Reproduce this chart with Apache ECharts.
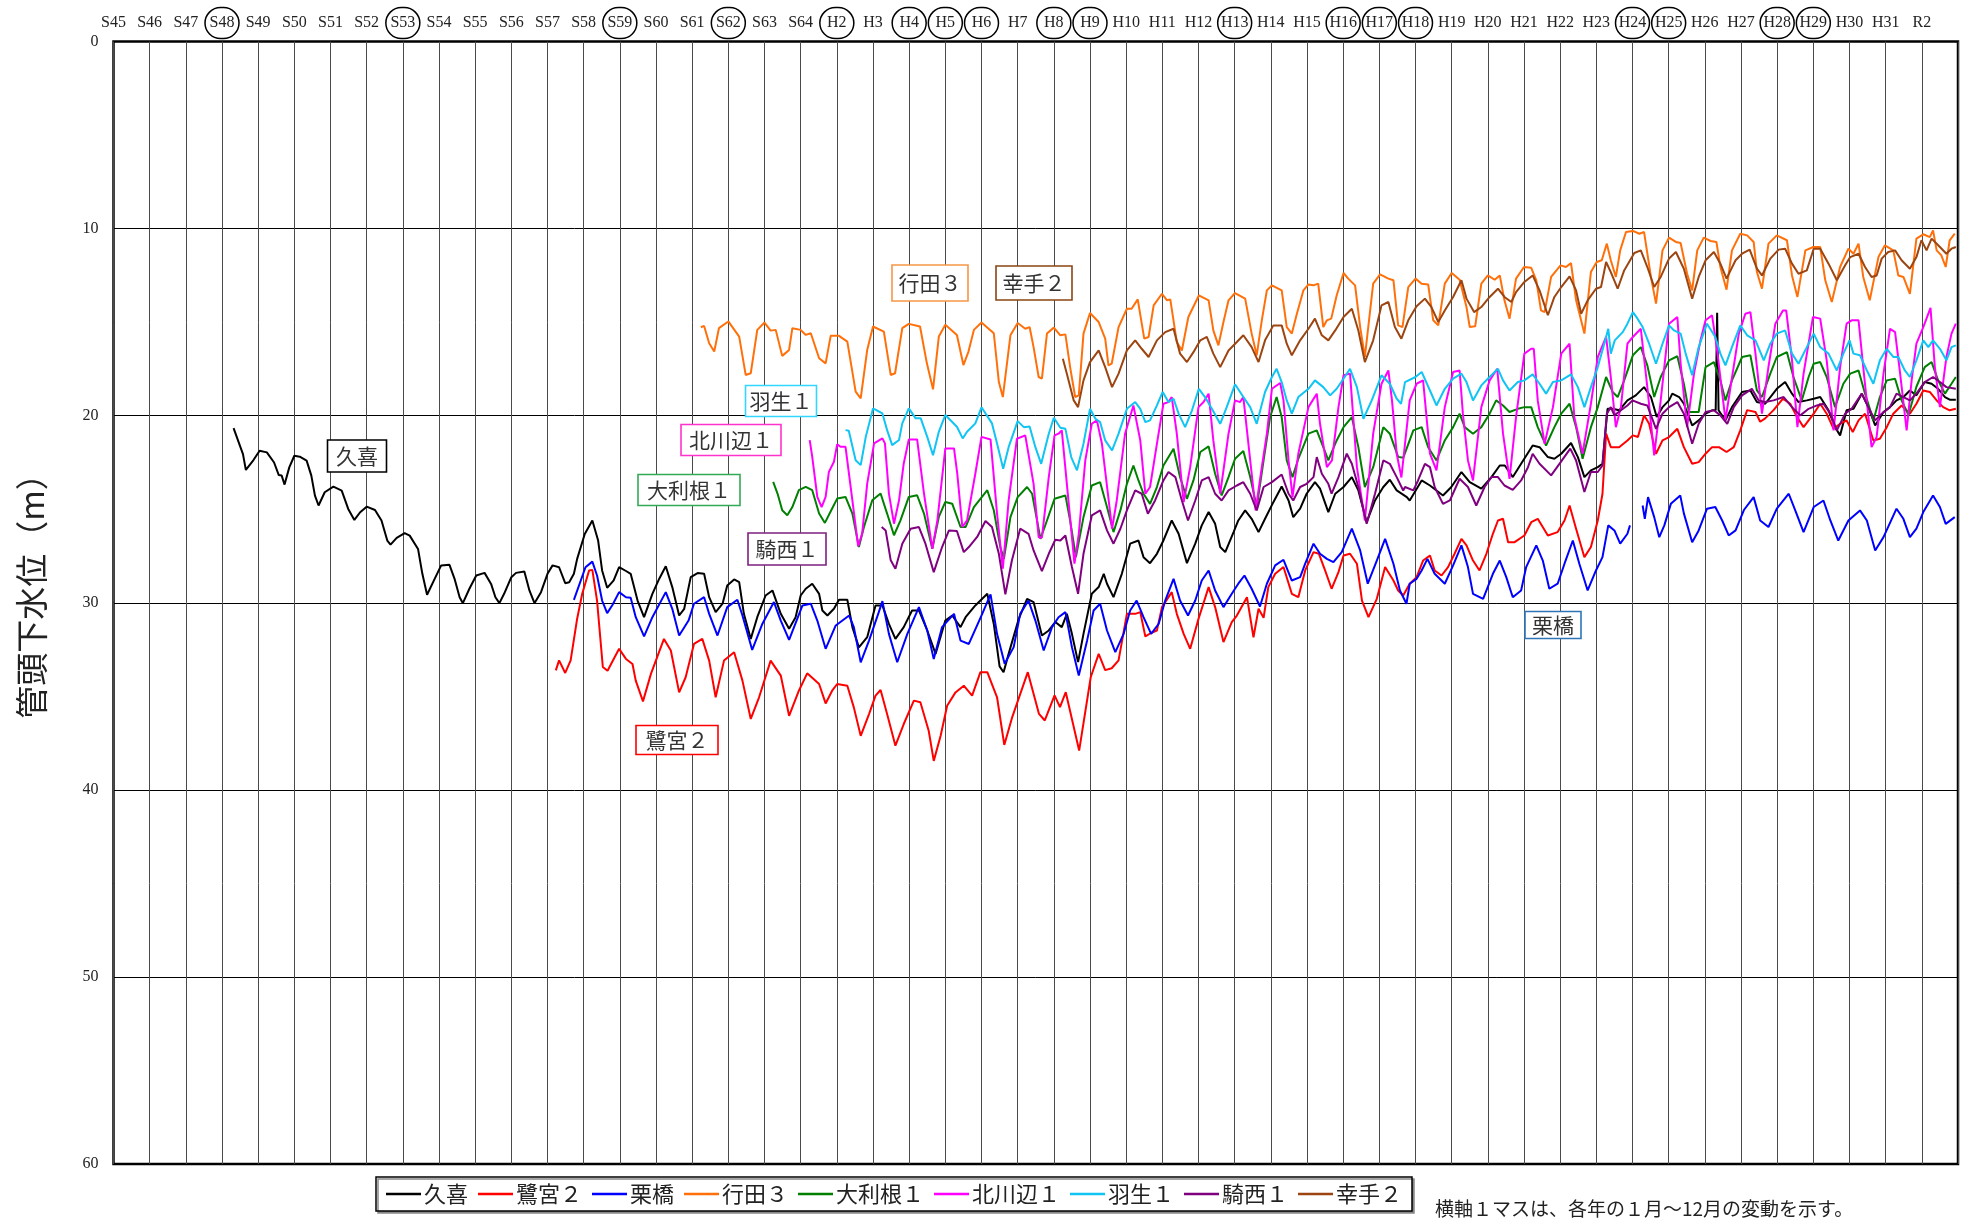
<!DOCTYPE html>
<html><head><meta charset="utf-8">
<script src="https://cdn.jsdelivr.net/npm/echarts@6/dist/echarts.min.js"></script>
<style>html,body{margin:0;padding:0;background:#fff}#c{width:1977px;height:1219px}</style>
</head><body><div id="c"></div>
<script>
// ---- tick labels ----
const yearLabels = ['S45','S46','S47','S48','S49','S50','S51','S52','S53','S54','S55','S56','S57','S58','S59','S60','S61','S62','S63','S64',
 'H2','H3','H4','H5','H6','H7','H8','H9','H10','H11','H12','H13','H14','H15','H16','H17','H18','H19','H20','H21','H22','H23','H24','H25','H26','H27','H28','H29','H30','H31','R2'];
const circledYears = ['S48','S53','S59','S62','H2','H4','H5','H6','H8','H9','H13','H16','H17','H18','H24','H25','H28','H29'];
const depthTicks = [0,10,20,30,40,50,60];
const seriesNames = ['久喜','鷺宮２','栗橋','行田３','大利根１','北川辺１','羽生１','騎西１','幸手２'];

// ---- series values: [year (fractional), depth below casing top (m)] ----
const kuki = [[1973.32,20.66],[1973.58,22.05],[1973.66,22.9],[1973.87,22.37],[1974.04,21.87],[1974.24,21.96],[1974.44,22.5],[1974.57,23.17],[1974.65,23.2],[1974.73,23.68],[1974.86,22.76],[1975.0,22.14],[1975.15,22.19],[1975.34,22.4],[1975.47,23.2],[1975.57,24.27],[1975.67,24.8],[1975.84,24.09],[1976.08,23.79],[1976.31,24.0],[1976.49,24.98],[1976.66,25.57],[1976.82,25.16],[1977.0,24.86],[1977.23,25.04],[1977.41,25.6],[1977.57,26.67],[1977.66,26.89],[1977.83,26.53],[1978.05,26.28],[1978.19,26.41],[1978.42,27.12],[1978.54,28.45],[1978.67,29.57],[1978.88,28.72],[1979.06,28.0],[1979.29,27.97],[1979.43,28.72],[1979.57,29.7],[1979.66,30.02],[1979.84,29.25],[1980.03,28.54],[1980.26,28.4],[1980.44,28.99],[1980.56,29.7],[1980.67,30.02],[1980.8,29.52],[1981.0,28.63],[1981.13,28.4],[1981.36,28.33],[1981.5,29.34],[1981.64,30.02],[1981.82,29.43],[1982.0,28.45],[1982.14,28.0],[1982.32,28.1],[1982.49,28.95],[1982.6,28.9],[1982.73,28.45],[1982.82,27.65],[1983.03,26.32],[1983.24,25.6],[1983.4,26.67],[1983.51,28.27],[1983.65,29.2],[1983.83,28.8],[1983.98,28.09],[1984.17,28.3],[1984.3,28.45],[1984.49,29.88],[1984.67,30.77],[1984.9,29.52],[1985.09,28.71],[1985.27,28.05],[1985.45,29.16],[1985.64,30.68],[1985.78,30.32],[1985.96,28.63],[1986.15,28.41],[1986.33,28.45],[1986.47,29.7],[1986.65,30.5],[1986.84,30.05],[1986.97,29.07],[1987.16,28.75],[1987.3,28.89],[1987.43,30.59],[1987.62,31.93],[1987.8,30.77],[1988.03,29.61],[1988.22,29.34],[1988.45,30.59],[1988.68,31.39],[1988.86,30.77],[1989.0,29.61],[1989.14,29.25],[1989.32,28.98],[1989.51,29.52],[1989.6,30.41],[1989.74,30.68],[1989.92,30.32],[1990.06,29.84],[1990.29,29.84],[1990.43,31.3],[1990.61,32.38],[1990.84,31.84],[1991.07,30.14],[1991.26,30.14],[1991.44,31.13],[1991.62,31.93],[1991.85,31.3],[1992.08,30.41],[1992.27,30.41],[1992.5,31.48],[1992.73,32.73],[1993.0,30.95],[1993.19,30.68],[1993.42,31.3],[1993.56,30.77],[1993.83,30.14],[1994.16,29.52],[1994.34,31.13],[1994.5,33.4],[1994.61,33.71],[1994.75,32.73],[1995.03,30.86],[1995.26,29.79],[1995.44,29.96],[1995.67,31.75],[1995.86,31.48],[1996.04,31.03],[1996.22,31.3],[1996.36,30.59],[1996.5,31.66],[1996.67,33.17],[1996.82,31.66],[1997.05,29.52],[1997.24,29.16],[1997.38,28.45],[1997.47,28.98],[1997.65,29.7],[1997.88,28.45],[1998.11,26.84],[1998.34,26.67],[1998.48,27.56],[1998.66,27.88],[1998.85,27.38],[1999.03,26.67],[1999.26,25.6],[1999.45,26.31],[1999.68,27.88],[1999.91,26.84],[2000.09,25.86],[2000.28,25.15],[2000.46,25.78],[2000.6,27.02],[2000.74,27.29],[2000.97,26.22],[2001.1,25.6],[2001.29,25.06],[2001.47,25.51],[2001.66,26.22],[2001.84,25.51],[2002.07,24.62],[2002.3,23.78],[2002.49,24.53],[2002.62,25.42],[2002.81,24.97],[2002.99,24.17],[2003.22,23.55],[2003.36,23.9],[2003.59,25.15],[2003.78,24.17],[2004.01,23.81],[2004.24,23.28],[2004.42,23.99],[2004.65,25.69],[2004.88,24.53],[2005.11,23.81],[2005.29,23.42],[2005.48,23.99],[2005.76,24.35],[2005.84,24.53],[2006.17,23.46],[2006.4,23.73],[2006.76,24.26],[2006.99,23.81],[2007.27,23.01],[2007.5,23.55],[2007.82,23.9],[2008.1,23.28],[2008.33,22.66],[2008.47,22.66],[2008.69,23.28],[2008.92,22.57],[2009.24,21.59],[2009.43,21.68],[2009.66,22.21],[2009.84,22.3],[2010.03,22.03],[2010.3,21.46],[2010.49,22.21],[2010.67,23.28],[2010.85,22.92],[2011.04,22.75],[2011.17,22.57],[2011.31,19.63],[2011.45,19.63],[2011.63,19.71],[2011.86,19.18],[2012.09,18.91],[2012.32,18.47],[2012.51,19.0],[2012.67,20.07],[2012.83,19.54],[2013.01,19.18],[2013.1,18.82],[2013.29,19.0],[2013.42,19.36],[2013.65,20.52],[2013.83,20.25],[2014.02,19.89],[2014.2,19.71],[2014.3,19.7],[2014.34,14.5],[2014.38,19.71],[2014.57,20.25],[2014.75,19.54],[2015.03,18.73],[2015.26,18.65],[2015.44,19.27],[2015.67,19.36],[2015.99,18.56],[2016.22,18.2],[2016.41,18.82],[2016.59,19.27],[2016.82,19.18],[2017.01,19.09],[2017.19,19.0],[2017.42,19.71],[2017.6,20.61],[2017.74,21.05],[2017.92,19.71],[2018.11,19.63],[2018.34,18.82],[2018.52,19.54],[2018.71,20.52],[2018.94,19.8],[2019.12,19.54],[2019.3,19.18],[2019.49,19.0],[2019.67,18.65],[2019.85,18.91],[2020.08,18.2],[2020.27,18.29],[2020.45,18.56],[2020.64,19.0],[2020.77,19.14],[2020.94,19.14]];

const saginomiya2 = [[1982.23,33.61],[1982.32,33.08],[1982.49,33.75],[1982.64,33.08],[1982.82,30.85],[1982.96,29.52],[1983.15,28.27],[1983.24,28.24],[1983.37,29.88],[1983.53,33.43],[1983.66,33.63],[1983.98,32.46],[1984.17,33.0],[1984.35,33.27],[1984.44,34.16],[1984.64,35.27],[1984.86,33.8],[1985.22,31.93],[1985.41,32.55],[1985.64,34.79],[1985.82,33.98],[1986.05,32.2],[1986.28,31.93],[1986.47,33.09],[1986.65,35.05],[1986.88,33.09],[1987.16,32.64],[1987.39,34.16],[1987.62,36.21],[1987.85,35.05],[1988.17,33.09],[1988.45,33.89],[1988.68,36.04],[1988.95,34.7],[1989.18,33.77],[1989.51,34.34],[1989.69,35.38],[1989.87,34.7],[1990.01,34.34],[1990.29,34.43],[1990.47,35.59],[1990.66,37.11],[1990.89,35.95],[1991.07,34.96],[1991.21,34.66],[1991.39,35.95],[1991.62,37.64],[1991.85,36.48],[1992.13,35.23],[1992.31,35.32],[1992.54,36.84],[1992.68,38.45],[1992.87,37.11],[1993.05,35.5],[1993.28,34.79],[1993.51,34.43],[1993.74,34.96],[1993.97,33.71],[1994.16,33.71],[1994.43,35.05],[1994.63,37.6],[1994.85,36.11],[1995.28,33.71],[1995.59,35.94],[1995.75,36.29],[1996.02,34.95],[1996.17,35.58],[1996.33,34.78],[1996.7,37.9],[1997.02,33.98],[1997.24,32.73],[1997.42,33.6],[1997.6,33.5],[1997.79,33.08],[1998.02,30.59],[1998.25,30.59],[1998.39,30.5],[1998.53,31.8],[1998.7,31.6],[1998.85,31.48],[1998.99,30.23],[1999.26,29.43],[1999.4,30.59],[1999.59,31.66],[1999.77,32.46],[2000.0,30.86],[2000.28,29.16],[2000.46,30.23],[2000.69,32.1],[2000.92,31.03],[2001.06,30.68],[2001.34,29.7],[2001.52,31.84],[2001.66,30.32],[2001.8,30.8],[2001.93,29.16],[2002.12,28.45],[2002.35,28.09],[2002.58,29.52],[2002.76,29.7],[2002.95,28.27],[2003.18,27.29],[2003.33,27.38],[2003.5,28.27],[2003.68,29.25],[2003.87,28.36],[2004.01,27.47],[2004.19,27.38],[2004.38,27.91],[2004.52,29.88],[2004.7,30.77],[2004.93,29.79],[2005.16,28.09],[2005.39,28.81],[2005.52,29.34],[2005.66,29.61],[2005.84,28.98],[2006.03,28.63],[2006.21,27.74],[2006.4,27.47],[2006.53,28.27],[2006.72,28.54],[2006.9,28.09],[2007.08,27.38],[2007.27,26.58],[2007.41,26.93],[2007.59,27.74],[2007.77,28.27],[2007.96,27.38],[2008.14,26.31],[2008.28,25.6],[2008.42,25.51],[2008.56,26.76],[2008.74,26.76],[2009.01,26.4],[2009.2,25.69],[2009.38,25.51],[2009.66,26.4],[2009.93,26.22],[2010.12,25.6],[2010.26,24.8],[2010.44,26.04],[2010.67,27.56],[2010.85,27.02],[2011.04,25.6],[2011.17,24.17],[2011.27,20.96],[2011.4,21.68],[2011.63,21.68],[2011.86,21.32],[2012.01,21.05],[2012.15,21.14],[2012.32,19.98],[2012.46,20.43],[2012.65,22.03],[2012.83,21.32],[2013.01,21.14],[2013.24,20.7],[2013.42,21.68],[2013.65,22.57],[2013.83,22.48],[2014.02,22.03],[2014.2,21.68],[2014.39,21.68],[2014.6,21.94],[2014.8,21.68],[2014.98,20.78],[2015.17,19.7],[2015.4,19.8],[2015.53,20.32],[2015.67,20.14],[2015.9,19.7],[2016.16,19.09],[2016.36,19.36],[2016.55,20.07],[2016.73,20.61],[2017.01,19.89],[2017.19,19.36],[2017.37,19.89],[2017.56,20.7],[2017.74,20.43],[2017.92,20.25],[2018.09,20.87],[2018.25,20.25],[2018.43,19.89],[2018.66,21.32],[2018.84,21.23],[2019.03,20.61],[2019.21,19.89],[2019.44,19.45],[2019.67,19.89],[2019.85,19.36],[2020.04,18.65],[2020.22,18.73],[2020.41,19.18],[2020.59,19.54],[2020.77,19.71],[2020.94,19.63]];

const kurihashi = [[1982.73,29.84],[1983.05,28.1],[1983.24,27.8],[1983.37,28.54],[1983.51,29.88],[1983.65,30.55],[1983.8,30.1],[1983.98,29.43],[1984.17,29.7],[1984.3,29.73],[1984.44,30.77],[1984.67,31.8],[1984.9,30.77],[1985.27,29.43],[1985.45,30.32],[1985.64,31.75],[1985.9,30.95],[1986.05,30.05],[1986.33,29.7],[1986.47,30.59],[1986.7,31.75],[1986.97,30.23],[1987.25,29.84],[1987.39,30.68],[1987.66,32.52],[1987.94,31.13],[1988.26,29.96],[1988.45,30.95],[1988.68,31.98],[1989.05,30.14],[1989.28,30.05],[1989.46,30.95],[1989.69,32.46],[1989.97,31.21],[1990.34,30.68],[1990.47,31.3],[1990.66,33.18],[1990.89,32.02],[1991.16,30.5],[1991.26,29.91],[1991.44,31.66],[1991.67,33.18],[1991.95,31.66],[1992.27,30.23],[1992.5,31.48],[1992.68,33.0],[1992.91,31.3],[1993.24,30.59],[1993.42,32.02],[1993.65,32.2],[1994.02,30.59],[1994.25,29.55],[1994.43,31.66],[1994.64,33.26],[1994.89,32.37],[1995.07,30.59],[1995.3,29.88],[1995.49,30.95],[1995.72,32.55],[1995.95,31.3],[1996.13,30.77],[1996.32,30.5],[1996.5,32.37],[1996.69,33.89],[1996.92,32.01],[1997.1,30.41],[1997.28,30.05],[1997.47,31.48],[1997.7,32.64],[1997.93,31.66],[1998.11,30.41],[1998.29,29.88],[1998.48,30.77],[1998.69,31.66],[1998.9,31.12],[1999.08,29.88],[1999.31,28.72],[1999.49,29.88],[1999.71,30.68],[1999.91,29.88],[2000.09,28.81],[2000.28,28.27],[2000.46,29.34],[2000.69,30.23],[2000.92,29.52],[2001.1,28.98],[2001.27,28.54],[2001.47,29.25],[2001.7,30.2],[2001.89,28.98],[2002.12,28.0],[2002.35,27.7],[2002.58,28.81],[2002.81,28.63],[2002.95,27.91],[2003.18,26.84],[2003.36,27.38],[2003.55,27.65],[2003.73,27.83],[2003.96,27.29],[2004.24,26.04],[2004.47,27.2],[2004.68,28.98],[2004.93,27.74],[2005.16,26.58],[2005.39,27.91],[2005.57,29.34],[2005.75,30.05],[2005.84,28.98],[2006.03,28.72],[2006.17,28.27],[2006.33,27.65],[2006.53,28.45],[2006.81,28.98],[2007.04,28.0],[2007.27,26.93],[2007.45,28.09],[2007.59,29.52],[2007.87,29.79],[2008.14,28.45],[2008.33,27.74],[2008.51,28.63],[2008.69,29.7],[2008.92,29.34],[2009.06,28.09],[2009.34,26.93],[2009.52,27.74],[2009.7,29.25],[2009.93,28.98],[2010.12,27.91],[2010.35,26.67],[2010.53,27.91],[2010.76,29.34],[2010.99,28.27],[2011.17,27.56],[2011.33,25.86],[2011.5,26.13],[2011.66,26.84],[2011.86,26.31],[2011.93,25.86],[2012.1,null],[2012.28,24.8],[2012.34,25.51],[2012.43,24.35],[2012.6,25.42],[2012.74,26.49],[2012.88,25.86],[2013.06,24.71],[2013.32,24.26],[2013.42,25.22],[2013.65,26.76],[2013.83,26.13],[2014.06,24.97],[2014.29,24.88],[2014.48,25.6],[2014.66,26.4],[2014.85,26.13],[2015.08,25.04],[2015.35,24.35],[2015.53,25.6],[2015.76,25.95],[2015.99,24.97],[2016.32,24.17],[2016.5,25.06],[2016.73,26.22],[2017.01,24.88],[2017.28,24.53],[2017.47,25.6],[2017.69,26.67],[2017.97,25.6],[2018.29,25.06],[2018.48,25.6],[2018.71,27.2],[2018.94,26.49],[2019.3,24.97],[2019.49,25.51],[2019.67,26.49],[2019.85,26.04],[2020.04,25.15],[2020.31,24.26],[2020.5,24.88],[2020.66,25.78],[2020.91,25.42]];

const gyoda3 = [[1986.24,15.27],[1986.33,15.2],[1986.47,16.13],[1986.61,16.57],[1986.74,15.32],[1987.0,14.96],[1987.3,15.77],[1987.48,17.82],[1987.62,17.73],[1987.8,15.41],[1988.0,15.02],[1988.17,15.45],[1988.31,15.41],[1988.49,16.8],[1988.68,16.48],[1988.77,15.32],[1989.0,15.41],[1989.14,15.68],[1989.28,15.59],[1989.51,16.93],[1989.69,17.2],[1989.83,15.73],[1990.06,15.73],[1990.29,16.04],[1990.52,18.71],[1990.66,19.07],[1990.84,16.48],[1991.0,15.23],[1991.3,15.5],[1991.49,17.82],[1991.61,17.73],[1991.81,15.32],[1991.99,15.09],[1992.3,15.23],[1992.49,17.2],[1992.66,18.59],[1992.82,15.77],[1993.0,15.14],[1993.32,15.68],[1993.5,17.29],[1993.64,16.57],[1993.79,15.41],[1994.0,15.02],[1994.34,15.59],[1994.48,18.2],[1994.59,19.0],[1994.8,15.7],[1995.0,15.04],[1995.21,15.35],[1995.33,15.26],[1995.44,16.33],[1995.58,17.93],[1995.67,18.02],[1995.81,15.61],[1996.0,15.29],[1996.18,15.7],[1996.32,15.65],[1996.45,17.4],[1996.59,19.0],[1996.69,18.91],[1996.82,15.61],[1997.0,14.51],[1997.24,14.99],[1997.42,15.88],[1997.51,17.31],[1997.6,17.22],[1997.79,15.26],[1998.02,14.28],[1998.15,14.28],[1998.32,13.78],[1998.5,15.88],[1998.62,15.79],[1998.76,14.1],[1998.99,13.48],[1999.13,13.83],[1999.22,13.78],[1999.4,16.06],[1999.54,16.51],[1999.72,14.72],[2000.01,13.57],[2000.28,13.83],[2000.41,15.44],[2000.55,16.24],[2000.69,14.99],[2000.83,13.83],[2001.01,13.44],[2001.29,13.74],[2001.47,15.61],[2001.61,16.77],[2001.75,14.9],[2001.89,13.3],[2002.03,13.03],[2002.3,13.3],[2002.44,15.26],[2002.58,15.61],[2002.72,14.55],[2002.9,13.3],[2003.04,12.98],[2003.18,13.03],[2003.31,12.94],[2003.45,15.26],[2003.55,14.9],[2003.67,14.81],[2003.82,13.57],[2004.01,12.37],[2004.14,12.67],[2004.33,13.03],[2004.47,15.26],[2004.6,16.86],[2004.83,12.94],[2005.02,12.44],[2005.25,12.67],[2005.39,12.76],[2005.52,15.17],[2005.64,15.26],[2005.8,13.12],[2006.0,12.67],[2006.17,12.94],[2006.35,12.98],[2006.49,14.9],[2006.63,15.17],[2006.81,12.94],[2007.0,12.37],[2007.22,12.73],[2007.41,14.19],[2007.5,15.26],[2007.65,15.22],[2007.82,12.94],[2008.0,12.5],[2008.19,12.73],[2008.33,12.5],[2008.46,13.83],[2008.6,14.81],[2008.78,12.67],[2009.0,12.05],[2009.2,12.09],[2009.34,12.76],[2009.47,14.37],[2009.57,14.46],[2009.75,12.58],[2010.01,11.96],[2010.16,12.05],[2010.3,11.84],[2010.44,13.83],[2010.67,15.61],[2010.85,12.32],[2011.01,11.78],[2011.15,11.69],[2011.29,10.8],[2011.4,11.69],[2011.54,12.58],[2011.66,11.16],[2011.82,10.18],[2012.01,10.12],[2012.19,10.27],[2012.32,10.18],[2012.51,12.58],[2012.65,14.01],[2012.83,11.16],[2013.01,10.48],[2013.2,10.71],[2013.33,10.77],[2013.51,12.41],[2013.65,13.3],[2013.79,11.16],[2013.97,10.48],[2014.16,10.66],[2014.32,10.71],[2014.43,12.05],[2014.6,13.26],[2014.75,11.16],[2014.98,10.27],[2015.17,10.36],[2015.35,10.71],[2015.44,12.32],[2015.58,13.21],[2015.76,10.8],[2015.99,10.36],[2016.27,10.62],[2016.41,12.5],[2016.56,13.65],[2016.78,11.16],[2017.0,10.98],[2017.19,10.98],[2017.33,12.76],[2017.51,13.92],[2017.74,12.05],[2017.97,11.07],[2018.11,11.34],[2018.25,10.8],[2018.38,12.58],[2018.56,13.83],[2018.8,11.52],[2018.98,10.89],[2019.21,11.16],[2019.35,12.5],[2019.49,12.58],[2019.67,13.48],[2019.85,10.53],[2020.04,10.3],[2020.22,10.45],[2020.31,10.09],[2020.41,11.16],[2020.54,11.43],[2020.66,12.05],[2020.77,10.62],[2020.91,10.27]];

const otone1 = [[1988.24,23.54],[1988.36,24.16],[1988.49,25.05],[1988.63,25.32],[1988.77,24.88],[1988.95,23.98],[1989.14,23.8],[1989.32,23.98],[1989.51,25.23],[1989.67,25.73],[1989.87,24.96],[1990.01,24.43],[1990.24,24.34],[1990.43,25.23],[1990.61,27.02],[1990.75,25.95],[1990.98,24.52],[1991.21,24.16],[1991.39,25.23],[1991.58,26.39],[1991.76,25.59],[1991.99,24.34],[1992.22,24.25],[1992.41,25.23],[1992.64,27.11],[1992.82,25.41],[1993.0,24.61],[1993.19,24.7],[1993.42,25.95],[1993.56,25.95],[1993.79,24.88],[1994.16,23.98],[1994.34,25.05],[1994.52,27.02],[1994.62,27.65],[1994.8,25.42],[1995.0,24.35],[1995.26,23.81],[1995.4,24.17],[1995.63,26.58],[1995.81,25.6],[1996.02,24.44],[1996.32,24.26],[1996.45,25.6],[1996.61,27.56],[1996.82,25.42],[1997.05,23.73],[1997.28,23.55],[1997.47,24.88],[1997.65,26.22],[1997.84,25.06],[1998.02,23.64],[1998.2,22.66],[1998.34,23.46],[1998.48,24.17],[1998.66,24.71],[1998.85,23.81],[1999.03,22.66],[1999.31,21.76],[1999.49,23.28],[1999.68,24.44],[1999.86,23.46],[2000.05,21.94],[2000.28,21.64],[2000.46,23.1],[2000.64,24.26],[2000.83,23.28],[2001.01,22.3],[2001.24,21.89],[2001.43,23.28],[2001.61,24.88],[2001.8,22.39],[2001.98,20.07],[2002.16,19.0],[2002.3,20.07],[2002.44,22.39],[2002.6,23.28],[2002.76,22.3],[2003.04,20.96],[2003.27,20.78],[2003.45,21.68],[2003.59,22.39],[2003.82,21.32],[2004.01,20.61],[2004.24,20.07],[2004.42,21.68],[2004.6,23.81],[2004.83,22.75],[2005.11,20.61],[2005.29,20.96],[2005.52,22.2],[2005.66,22.25],[2005.94,20.78],[2006.17,20.61],[2006.35,21.68],[2006.58,22.39],[2006.81,21.32],[2007.04,20.61],[2007.22,19.89],[2007.36,20.61],[2007.59,20.96],[2007.82,20.61],[2008.05,19.89],[2008.23,19.18],[2008.42,19.45],[2008.6,19.8],[2008.83,19.63],[2009.01,19.54],[2009.2,19.54],[2009.38,20.61],[2009.61,21.59],[2009.84,20.61],[2010.03,19.89],[2010.26,19.36],[2010.44,20.61],[2010.62,22.3],[2010.85,20.61],[2011.04,19.54],[2011.27,17.93],[2011.45,18.73],[2011.59,19.0],[2011.77,18.11],[2012.01,16.77],[2012.23,16.33],[2012.41,17.31],[2012.6,19.0],[2012.78,17.93],[2013.01,17.04],[2013.24,16.82],[2013.42,18.29],[2013.56,19.8],[2013.83,19.8],[2014.02,17.4],[2014.25,17.13],[2014.43,18.11],[2014.57,19.18],[2014.75,18.11],[2015.03,16.86],[2015.26,16.77],[2015.44,18.65],[2015.58,19.0],[2015.81,17.75],[2015.99,16.86],[2016.27,16.6],[2016.45,17.93],[2016.68,19.18],[2016.87,17.93],[2017.01,17.22],[2017.19,17.13],[2017.37,17.93],[2017.6,19.54],[2017.83,18.29],[2018.02,17.75],[2018.25,17.58],[2018.43,18.82],[2018.66,20.25],[2018.84,19.0],[2019.03,18.11],[2019.26,18.02],[2019.44,19.18],[2019.63,19.96],[2019.85,18.45],[2020.08,17.4],[2020.27,17.13],[2020.45,18.11],[2020.64,18.82],[2020.82,18.29],[2020.94,17.93]];

const kitakawabe1 = [[1989.25,21.3],[1989.32,22.2],[1989.46,24.34],[1989.58,24.88],[1989.69,24.34],[1989.78,23.0],[1989.92,22.46],[1990.01,21.52],[1990.1,21.66],[1990.24,21.66],[1990.43,24.52],[1990.59,26.98],[1990.7,26.3],[1990.84,23.63],[1991.03,21.48],[1991.26,21.21],[1991.33,21.48],[1991.44,24.16],[1991.58,25.77],[1991.72,24.52],[1991.85,22.55],[1991.99,21.27],[1992.22,21.27],[1992.41,24.16],[1992.64,27.11],[1992.78,25.59],[1993.0,21.75],[1993.24,21.75],[1993.33,23.09],[1993.47,25.95],[1993.6,25.59],[1993.83,23.09],[1994.0,21.13],[1994.25,21.27],[1994.43,25.23],[1994.59,28.18],[1994.75,24.53],[1994.98,21.23],[1995.21,21.05],[1995.26,20.96],[1995.44,23.64],[1995.58,26.49],[1995.67,26.52],[1995.86,23.28],[1996.02,21.05],[1996.13,20.96],[1996.22,20.78],[1996.36,23.64],[1996.57,27.91],[1996.69,26.31],[1996.87,22.39],[1997.05,20.43],[1997.19,20.25],[1997.33,21.5],[1997.61,26.04],[1997.74,24.53],[1997.97,20.96],[1998.2,19.45],[1998.25,19.36],[1998.39,21.32],[1998.53,24.17],[1998.66,23.81],[1998.85,21.5],[1999.03,19.36],[1999.17,19.27],[1999.26,19.0],[1999.4,20.96],[1999.59,24.62],[1999.77,22.75],[2000.0,19.54],[2000.14,19.27],[2000.28,18.82],[2000.41,21.32],[2000.6,24.17],[2000.83,20.96],[2001.01,19.18],[2001.15,19.27],[2001.24,19.0],[2001.43,22.39],[2001.58,25.06],[2001.75,22.75],[2001.89,20.96],[2002.03,18.56],[2002.26,18.25],[2002.35,19.18],[2002.49,22.39],[2002.6,24.35],[2002.76,22.03],[2003.04,19.54],[2003.27,18.82],[2003.36,20.43],[2003.55,22.75],[2003.69,22.39],[2003.87,19.54],[2004.01,17.84],[2004.19,17.75],[2004.38,22.75],[2004.6,25.6],[2004.83,20.96],[2005.06,18.29],[2005.25,17.58],[2005.35,19.18],[2005.48,22.03],[2005.61,23.3],[2005.84,19.18],[2006.03,18.29],[2006.21,18.11],[2006.4,22.03],[2006.58,22.92],[2006.81,19.54],[2007.04,17.66],[2007.22,17.58],[2007.31,19.89],[2007.45,22.39],[2007.59,23.46],[2007.82,19.54],[2008.05,18.11],[2008.26,17.49],[2008.42,20.96],[2008.6,23.37],[2008.78,20.07],[2009.01,16.68],[2009.2,16.42],[2009.27,16.42],[2009.38,19.18],[2009.57,21.5],[2009.8,19.54],[2010.03,16.68],[2010.26,16.15],[2010.39,20.07],[2010.62,22.03],[2010.85,19.36],[2011.04,16.86],[2011.27,15.79],[2011.4,17.93],[2011.54,20.61],[2011.68,19.54],[2011.86,16.15],[2012.01,15.79],[2012.23,15.35],[2012.41,18.47],[2012.6,22.12],[2012.78,19.18],[2013.01,15.08],[2013.24,14.72],[2013.33,17.2],[2013.51,20.61],[2013.7,17.75],[2013.88,15.97],[2014.02,14.9],[2014.2,14.63],[2014.34,16.51],[2014.57,20.23],[2014.71,18.47],[2014.94,15.61],[2015.12,14.55],[2015.26,14.46],[2015.4,16.68],[2015.58,19.89],[2015.76,17.38],[2015.95,15.08],[2016.16,14.37],[2016.25,14.37],[2016.41,17.02],[2016.56,20.61],[2016.73,17.75],[2016.99,14.72],[2017.19,14.81],[2017.37,17.04],[2017.56,20.78],[2017.74,17.4],[2017.92,15.08],[2018.06,14.9],[2018.25,14.9],[2018.38,17.4],[2018.61,21.68],[2018.75,21.14],[2018.94,17.75],[2019.12,15.35],[2019.26,15.53],[2019.4,17.75],[2019.58,20.78],[2019.72,18.07],[2019.85,16.15],[2020.04,15.26],[2020.24,14.23],[2020.36,17.4],[2020.5,19.54],[2020.68,16.86],[2020.82,15.61],[2020.94,15.08]];

const hanyu1 = [[1990.24,20.77],[1990.33,20.8],[1990.52,22.38],[1990.66,22.64],[1990.8,21.13],[1991.0,19.61],[1991.26,19.88],[1991.39,20.77],[1991.53,21.57],[1991.72,21.3],[1991.81,20.41],[1991.99,19.61],[1992.18,20.14],[1992.32,20.14],[1992.5,21.13],[1992.66,22.11],[1992.82,20.86],[1993.0,19.96],[1993.32,20.59],[1993.48,21.21],[1993.6,20.86],[1993.83,20.41],[1994.0,19.55],[1994.29,20.41],[1994.43,21.48],[1994.6,22.83],[1994.75,21.68],[1995.0,20.29],[1995.17,20.61],[1995.33,20.57],[1995.49,21.68],[1995.65,22.57],[1995.86,20.96],[1996.0,20.11],[1996.18,20.64],[1996.32,20.7],[1996.48,22.21],[1996.64,22.92],[1996.82,21.5],[1997.0,19.63],[1997.15,20.16],[1997.28,20.34],[1997.42,21.32],[1997.61,21.85],[1997.79,20.96],[1998.02,19.63],[1998.25,19.27],[1998.39,19.63],[1998.53,20.34],[1998.66,20.25],[1998.85,19.45],[1999.01,18.73],[1999.17,19.27],[1999.31,19.09],[1999.45,19.89],[1999.63,20.61],[1999.82,19.71],[2000.01,18.56],[2000.18,19.0],[2000.37,19.63],[2000.6,20.43],[2000.78,19.54],[2001.01,18.32],[2001.24,19.0],[2001.43,19.54],[2001.61,20.43],[2001.84,18.73],[2002.03,17.93],[2002.16,17.49],[2002.3,18.2],[2002.44,19.18],[2002.58,19.89],[2002.76,19.0],[2003.04,18.56],[2003.22,18.11],[2003.45,18.47],[2003.64,18.91],[2003.82,18.56],[2004.01,18.02],[2004.19,17.49],[2004.38,18.47],[2004.56,20.16],[2004.79,19.18],[2005.06,17.84],[2005.29,18.29],[2005.48,19.09],[2005.6,19.36],[2005.71,18.2],[2006.0,17.93],[2006.17,17.66],[2006.4,18.65],[2006.58,19.45],[2006.81,18.56],[2007.04,18.02],[2007.27,17.75],[2007.41,18.2],[2007.59,19.18],[2007.82,18.38],[2008.0,18.02],[2008.28,17.49],[2008.42,18.11],[2008.6,18.65],[2008.83,18.2],[2009.01,18.11],[2009.24,17.79],[2009.43,18.29],[2009.61,18.82],[2009.8,18.2],[2010.03,18.11],[2010.3,17.79],[2010.49,18.47],[2010.67,19.54],[2010.85,18.47],[2011.04,17.4],[2011.22,16.15],[2011.33,15.35],[2011.4,16.68],[2011.51,15.97],[2011.73,15.53],[2011.86,15.08],[2012.01,14.46],[2012.14,14.81],[2012.28,15.26],[2012.46,16.15],[2012.65,17.22],[2012.83,16.15],[2013.01,15.17],[2013.15,15.44],[2013.33,15.61],[2013.47,16.68],[2013.65,17.84],[2013.83,16.33],[2014.06,15.08],[2014.29,15.79],[2014.43,16.68],[2014.57,17.31],[2014.75,16.33],[2014.98,15.17],[2015.17,15.7],[2015.4,15.97],[2015.63,17.04],[2015.81,16.15],[2015.99,15.61],[2016.22,15.44],[2016.41,16.68],[2016.59,17.22],[2016.82,16.33],[2017.01,15.61],[2017.19,16.33],[2017.42,16.68],[2017.65,17.58],[2017.83,16.68],[2018.0,15.97],[2018.11,16.68],[2018.29,16.77],[2018.48,17.58],[2018.66,18.29],[2018.84,17.04],[2019.03,16.42],[2019.21,16.86],[2019.35,16.86],[2019.53,17.58],[2019.67,17.93],[2019.85,17.04],[2020.04,15.97],[2020.18,16.33],[2020.31,15.97],[2020.5,16.42],[2020.68,17.04],[2020.82,16.33],[2020.94,16.24]];

const kisai1 = [[1991.24,25.95],[1991.35,26.13],[1991.49,27.73],[1991.62,28.18],[1991.81,26.84],[1992.04,26.04],[1992.27,25.95],[1992.45,26.84],[1992.68,28.36],[1992.91,27.02],[1993.1,26.13],[1993.32,26.16],[1993.51,27.29],[1993.65,27.02],[1993.88,26.48],[1994.11,25.63],[1994.29,25.95],[1994.48,27.38],[1994.66,29.55],[1994.84,27.74],[1995.07,26.04],[1995.3,26.31],[1995.44,27.2],[1995.67,28.31],[1995.86,27.38],[1996.04,26.63],[1996.18,26.67],[1996.32,26.4],[1996.5,28.09],[1996.67,29.52],[1996.82,27.38],[1997.05,25.33],[1997.28,25.06],[1997.47,26.13],[1997.65,26.84],[1997.84,26.04],[1998.02,25.06],[1998.25,23.99],[1998.43,24.17],[1998.6,25.24],[1998.8,24.53],[1999.03,23.46],[1999.17,23.01],[1999.36,23.28],[1999.54,24.53],[1999.71,25.6],[1999.91,24.53],[2000.09,23.46],[2000.28,23.28],[2000.46,24.17],[2000.64,24.53],[2000.83,23.99],[2001.06,23.73],[2001.24,23.55],[2001.43,24.17],[2001.61,25.06],[2001.8,23.81],[2002.03,23.55],[2002.3,23.14],[2002.49,24.17],[2002.62,24.53],[2002.81,23.81],[2002.99,23.64],[2003.18,23.28],[2003.27,22.21],[2003.41,23.1],[2003.59,23.64],[2003.68,24.17],[2003.87,23.28],[2004.1,22.03],[2004.24,22.57],[2004.42,23.81],[2004.65,25.78],[2004.88,24.17],[2005.11,22.39],[2005.29,22.57],[2005.48,23.28],[2005.66,24.0],[2005.71,23.81],[2005.94,23.99],[2006.07,23.46],[2006.26,22.57],[2006.4,22.75],[2006.53,23.81],[2006.76,24.71],[2006.95,24.53],[2007.22,23.37],[2007.45,23.81],[2007.68,24.8],[2007.91,23.81],[2008.1,23.28],[2008.28,23.28],[2008.46,23.73],[2008.69,23.96],[2008.92,23.46],[2009.11,22.75],[2009.24,22.03],[2009.43,22.57],[2009.75,23.19],[2009.98,22.57],[2010.28,21.76],[2010.44,22.39],[2010.67,24.08],[2010.85,23.01],[2011.04,23.01],[2011.17,22.66],[2011.29,19.89],[2011.4,19.54],[2011.5,19.98],[2011.68,19.71],[2011.86,19.45],[2012.0,19.18],[2012.23,19.36],[2012.41,19.45],[2012.65,20.7],[2012.83,19.89],[2013.01,19.54],[2013.24,19.27],[2013.42,19.89],[2013.65,21.5],[2013.83,20.43],[2014.02,19.8],[2014.25,19.71],[2014.43,19.98],[2014.62,20.43],[2014.8,19.54],[2015.03,18.91],[2015.3,18.56],[2015.49,19.18],[2015.67,19.27],[2015.9,19.18],[2016.18,19.0],[2016.41,19.54],[2016.64,19.98],[2016.87,19.63],[2017.1,19.45],[2017.28,19.36],[2017.47,19.89],[2017.65,20.78],[2017.88,19.89],[2018.06,19.63],[2018.34,18.82],[2018.52,19.54],[2018.71,20.25],[2018.89,19.89],[2019.12,19.54],[2019.3,18.82],[2019.49,19.0],[2019.67,19.18],[2019.85,18.82],[2020.08,18.2],[2020.31,17.93],[2020.5,18.2],[2020.68,18.47],[2020.94,18.56]];

const satte2 = [[1996.25,16.95],[1996.36,17.75],[1996.55,19.18],[1996.67,19.54],[1996.82,18.11],[1997.0,17.13],[1997.24,16.51],[1997.42,17.4],[1997.61,18.47],[1997.79,17.75],[1998.02,16.51],[1998.25,15.97],[1998.43,16.42],[1998.62,16.86],[1998.85,15.97],[1999.08,15.53],[1999.31,15.35],[1999.49,16.68],[1999.68,17.13],[1999.86,16.6],[2000.05,15.97],[2000.23,15.79],[2000.41,16.68],[2000.6,17.4],[2000.83,16.51],[2001.06,16.06],[2001.24,15.7],[2001.47,16.33],[2001.66,17.13],[2001.84,15.97],[2002.07,15.17],[2002.3,15.17],[2002.44,16.15],[2002.58,16.77],[2002.81,15.97],[2003.04,15.35],[2003.22,14.81],[2003.41,15.7],[2003.59,15.97],[2003.78,15.44],[2004.01,14.72],[2004.24,14.28],[2004.42,15.44],[2004.6,17.13],[2004.83,15.97],[2005.06,14.1],[2005.25,13.92],[2005.43,15.26],[2005.61,15.88],[2005.8,14.9],[2006.03,14.15],[2006.26,13.74],[2006.44,14.19],[2006.63,14.99],[2006.81,14.37],[2007.04,13.65],[2007.27,12.76],[2007.41,13.74],[2007.62,14.46],[2007.82,14.19],[2008.05,13.65],[2008.28,13.21],[2008.46,13.65],[2008.65,13.92],[2008.78,13.39],[2009.01,12.85],[2009.24,12.5],[2009.43,13.3],[2009.66,14.63],[2009.84,13.65],[2010.03,13.12],[2010.26,12.55],[2010.44,13.3],[2010.58,14.55],[2010.76,13.83],[2010.99,13.21],[2011.13,13.12],[2011.27,11.78],[2011.4,12.32],[2011.59,13.21],[2011.77,12.23],[2012.05,11.3],[2012.23,11.16],[2012.41,12.05],[2012.6,13.12],[2012.78,12.58],[2013.01,11.6],[2013.2,11.25],[2013.42,12.14],[2013.65,13.74],[2013.83,12.58],[2014.02,11.69],[2014.25,11.25],[2014.43,11.87],[2014.6,12.67],[2014.85,11.69],[2015.03,11.34],[2015.24,11.12],[2015.44,12.14],[2015.58,12.5],[2015.81,11.6],[2016.04,11.12],[2016.22,11.07],[2016.41,11.87],[2016.59,12.41],[2016.82,12.23],[2017.01,11.07],[2017.19,11.07],[2017.42,11.87],[2017.65,12.76],[2017.88,11.96],[2018.02,11.52],[2018.25,11.34],[2018.43,12.05],[2018.61,12.58],[2018.75,12.5],[2018.89,11.6],[2019.07,11.25],[2019.26,11.16],[2019.44,11.69],[2019.67,12.14],[2019.85,11.52],[2019.99,10.62],[2020.13,11.16],[2020.27,10.53],[2020.5,10.98],[2020.68,11.34],[2020.82,11.07],[2020.94,10.98]];

const seriesData = [kuki, saginomiya2, kurihashi, gyoda3, otone1, kitakawabe1, hanyu1, kisai1, satte2];
const seriesColors = ['#000000','#ff0000','#0000ff','#ff700a','#008000','#ff00ff','#10c4f4','#800080','#9c4511'];

// ---- annotation labels (name, box center in px, size, border colour) ----
const boxLabels = [
  {t:'久喜', cx:357, cy:456, w:59, h:32, c:'#000000'},
  {t:'行田３', cx:930, cy:283, w:76, h:36, c:'#f79646'},
  {t:'幸手２', cx:1034, cy:283, w:76, h:34, c:'#8b4513'},
  {t:'羽生１', cx:781, cy:401, w:71, h:31, c:'#33d6ff'},
  {t:'北川辺１', cx:731, cy:440, w:100, h:31, c:'#ff33cc'},
  {t:'大利根１', cx:689, cy:490, w:102, h:31, c:'#33aa55'},
  {t:'騎西１', cx:787, cy:549, w:78, h:32, c:'#7f1f7f'},
  {t:'鷺宮２', cx:677, cy:740, w:82, h:29, c:'#ff0000'},
  {t:'栗橋', cx:1553, cy:625, w:56, h:27, c:'#2e75b6'}
];

const serif = '"Liberation Serif","DejaVu Serif",serif';
const jp = '"Noto Sans CJK JP","Noto Sans CJK SC",sans-serif';

const graphics = [];
boxLabels.forEach(b => {
  graphics.push({type:'rect', z:100, shape:{x:b.cx-b.w/2, y:b.cy-b.h/2, width:b.w, height:b.h},
    style:{fill:'#ffffff', stroke:b.c, lineWidth:1.6}});
  graphics.push({type:'text', z:101, x:b.cx, y:b.cy,
    style:{text:b.t, font:'21px '+jp, fill:'#333', align:'center', verticalAlign:'middle', textAlign:'center', textVerticalAlign:'middle'}});
});
graphics.push({type:'text', z:101, x:31, y:588, rotation:Math.PI/2,
  style:{text:'管頭下水位（m）', font:'33px '+jp, fill:'#222', align:'center', verticalAlign:'middle', textAlign:'center', textVerticalAlign:'middle'}});
graphics.push({type:'text', z:101, x:1435, y:1209,
  style:{text:'横軸１マスは、各年の１月～12月の変動を示す。', font:'19px '+jp, fill:'#222', align:'left', verticalAlign:'middle', textAlign:'left', textVerticalAlign:'middle'}});

const chart = echarts.init(document.getElementById('c'), null, {renderer:'canvas'});
const baseRich = {fontFamily:serif, fontSize:16, color:'#222', width:34, height:31, lineHeight:31, align:'center', verticalAlign:'middle'};
chart.setOption({
  animation:false,
  backgroundColor:'#ffffff',
  grid:{left:113.5, right:19, top:41.6, bottom:55, show:true, borderColor:'#000', borderWidth:2.5, backgroundColor:'transparent'},
  xAxis:{type:'value', position:'top', min:1970, max:2021, interval:1,
    axisLine:{show:false}, axisTick:{show:false},
    axisLabel:{margin:3, formatter:function(v){
        const lab = yearLabels[Math.round(v-1970)];
        if(!lab) return '';
        return (circledYears.indexOf(lab)>=0 ? '{c|' : '{n|') + lab + '}';
      },
      rich:{n:Object.assign({}, baseRich), c:Object.assign({}, baseRich, {borderColor:'#000', borderWidth:1.5, borderRadius:17})}},
    splitLine:{show:true, lineStyle:{color:'#4a4a4a', width:1}}},
  yAxis:{type:'value', inverse:true, min:depthTicks[0], max:depthTicks[depthTicks.length-1], interval:10,
    axisLine:{show:false}, axisTick:{show:false},
    axisLabel:{margin:15, fontFamily:serif, fontSize:16, color:'#222'},
    splitLine:{show:true, lineStyle:{color:'#000', width:1}}},
  legend:{left:376, top:1177, orient:'horizontal', padding:[6,10], itemGap:10, itemWidth:35, itemHeight:2.5,
    icon:'rect', borderColor:'#000', borderWidth:1.5, backgroundColor:'#fff',
    shadowColor:'#888', shadowOffsetX:2, shadowOffsetY:2, shadowBlur:0,
    textStyle:{fontFamily:jp, fontSize:22, color:'#222', padding:[0,0,0,-2]},
    data:seriesNames},
  series:seriesNames.map((n,i)=>({name:n, type:'line', data:seriesData[i], showSymbol:false, symbol:'none',
    lineStyle:{color:seriesColors[i], width:2}, itemStyle:{color:seriesColors[i]}, connectNulls:false, z:2+i})),
  graphic:graphics
});
</script>
</body></html>
